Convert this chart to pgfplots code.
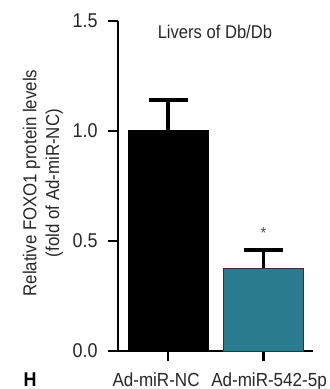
\documentclass[border=0pt]{standalone}
\usepackage{fontspec}
\setmainfont{Liberation Sans}[FakeStretch=0.9]
\usepackage{pgfplots}
\pgfplotsset{compat=1.18}
\definecolor{tealbar}{HTML}{2A7B8F}
\newcommand{\lbl}{\fontsize{18.5}{23}\selectfont}
\begin{document}
\begin{tikzpicture}
\path[use as bounding box] (0,0) rectangle (330bp,389bp);
\begin{axis}[
  at={(118bp,38bp)}, anchor=south west,
  scale only axis, width=195bp, height=330bp,
  xmin=-0.524, xmax=1.518, ymin=0, ymax=1.5,
  axis x line*=bottom, axis y line*=left,
  axis line style={line width=2.4bp, black},
  tick align=outside, major tick length=10bp,
  tick style={line width=2.4bp, black},
  ytick={0,0.5,1,1.5},
  yticklabel style={font=\fontsize{20}{23}\selectfont, text=black!85, xshift=-7bp, /pgf/number format/.cd, fixed, fixed zerofill, precision=1, assume math mode=true},
  xtick={0,1},
  xticklabels={{\hspace*{-24bp}Ad-miR-NC},{\hspace*{11bp}Ad-miR-542-5p}},
  xticklabel style={font=\fontsize{19}{23}\selectfont, text=black!85, yshift=-8bp},
  ylabel={Relative FOXO1 protein levels\\(fold of Ad-miR-NC)},
  ylabel style={font=\fontsize{18.8}{23}\selectfont, text=black!85, align=center, at={(axis description cs:-0.385,0.509)}, anchor=center},
  clip=false,
]
\addplot[ybar, bar shift=0pt, bar width=80bp, fill=black, draw=black, line width=1bp,
  error bars/.cd, y dir=plus, y explicit,
  error bar style={line width=3.5bp, black},
  error mark options={rotate=90, mark size=19.5bp, line width=3.5bp, black}]
  coordinates {(0,1.0) +- (0,0.14)};
\addplot[ybar, bar shift=0pt, bar width=80bp, fill=tealbar, draw=black!80, line width=1bp,
  error bars/.cd, y dir=plus, y explicit,
  error bar style={line width=3.5bp, black},
  error mark options={rotate=90, mark size=19.5bp, line width=3.5bp, black}]
  coordinates {(1,0.377) +- (0,0.083)};
\node[anchor=base, font=\lbl, text=black!85] at (axis description cs:0.497,0.948) {Livers of Db/Db};
\node[anchor=center, font=\fontsize{16}{16}\selectfont, text=black!70] at (axis cs:1,0.535) {*};
\end{axis}
\node[anchor=base west, font=\bfseries\fontsize{20}{20}\selectfont] at (20bp,3bp) {H};
\end{tikzpicture}
\end{document}
